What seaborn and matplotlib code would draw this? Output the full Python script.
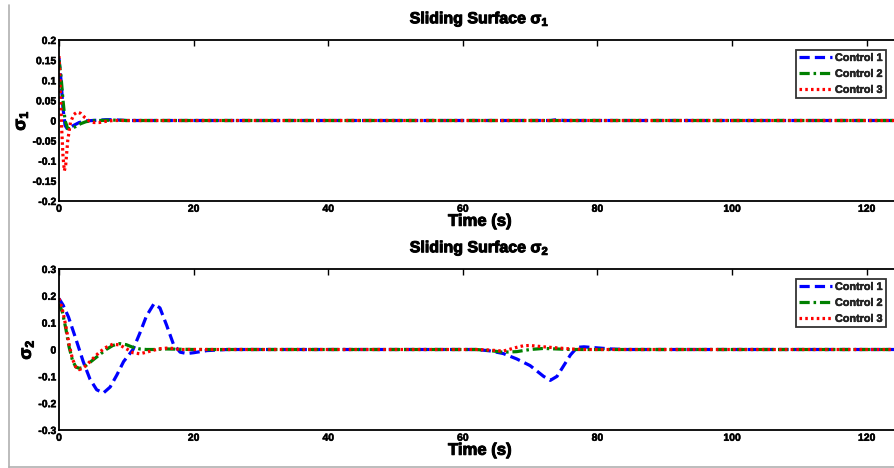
import matplotlib
matplotlib.use("Agg")
import matplotlib.pyplot as plt
import matplotlib.patheffects as pe
import seaborn as sns
from matplotlib.lines import Line2D

sns.set_theme(style="white")
plt.rcParams['font.family'] = ['Liberation Sans', 'DejaVu Sans']
plt.rcParams['font.weight'] = 'bold'
plt.rcParams['mathtext.default'] = 'regular'

# ---------------- data: sigma_1 ----------------
s1_c1_t = [0, 0.3, 0.6, 0.9, 1.2, 1.6, 2.2, 3, 4, 5, 6, 7, 8, 9, 10, 73, 74, 75, 125]
s1_c1_v = [0.155, 0.10, 0.03, -0.012, -0.02, -0.018, -0.012, -0.005, -0.001, 0.0,
           0.001, 0.002, 0.002, 0.001, 0.0, 0.0, 0.002, 0.0, 0.0]
s1_c2_t = [0, 0.3, 0.6, 0.9, 1.3, 1.8, 2.5, 3.2, 4, 5, 6, 8, 10, 125]
s1_c2_v = [0.15, 0.11, 0.05, 0.0, -0.02, -0.02, -0.015, -0.008, -0.003, 0.0, 0.0, 0.001, 0.0, 0.0]
s1_c3_t = [0, 0.2, 0.4, 0.6, 0.8, 1.0, 1.3, 1.7, 2.2, 2.7, 3.2, 3.8, 4.5, 5.2, 6, 7, 8, 125]
s1_c3_v = [0.16, 0.08, -0.02, -0.09, -0.125, -0.11, -0.05, -0.005, 0.015, 0.021, 0.018,
           0.008, -0.001, -0.005, -0.005, -0.002, 0.0, 0.0]

# ---------------- data: sigma_2 ----------------
s2_c1_t = [0, 0.6, 1.4, 2.5, 3.6, 4.6, 5.6, 6.6, 7.6, 8.6, 9.6, 11, 12, 13, 14.1, 15, 16, 17,
           18, 19, 20, 22, 25, 62, 64, 66, 68, 70, 72, 73, 74, 75, 76, 77, 78, 80, 82, 84, 125]
s2_c1_v = [0.19, 0.166, 0.122, 0.04, -0.045, -0.11, -0.15, -0.162, -0.14, -0.095, -0.045,
           0.0, 0.06, 0.125, 0.17, 0.155, 0.09, 0.02, -0.01, -0.015, -0.012, -0.004, 0.0,
           0.0, -0.005, -0.015, -0.035, -0.06, -0.1, -0.115, -0.1, -0.06, -0.02, 0.008,
           0.01, 0.006, 0.002, 0.0, 0.0]
s2_c2_t = [0, 0.5, 1, 1.5, 2, 2.5, 3, 3.5, 4, 5, 6, 7, 8, 9, 10, 11, 12, 13, 14, 16, 20,
           62, 64, 66, 68, 70, 72, 74, 76, 78, 125]
s2_c2_v = [0.17, 0.14, 0.08, 0.01, -0.04, -0.065, -0.07, -0.068, -0.06, -0.04, -0.02, 0.0,
           0.015, 0.022, 0.018, 0.008, 0.002, 0.0, 0.0, 0.002, 0.0,
           0.0, -0.004, -0.01, -0.008, 0.0, 0.004, 0.002, 0.0, 0.0, 0.0]
s2_c3_t = [0, 0.5, 1, 1.5, 2, 2.5, 3, 3.5, 4, 5, 6, 7, 8, 9, 10, 11, 12, 13, 14, 15, 16,
           17, 18, 20, 62, 64, 66, 68, 69, 70, 72, 74, 76, 78, 125]
s2_c3_v = [0.19, 0.15, 0.09, 0.02, -0.035, -0.065, -0.075, -0.07, -0.06, -0.035, -0.01,
           0.008, 0.02, 0.017, 0.003, -0.012, -0.016, -0.01, -0.003, 0.003, 0.005, 0.004,
           0.0, 0.0, 0.0, -0.002, -0.006, 0.008, 0.014, 0.015, 0.01, 0.006, 0.002, 0.0, 0.0]

labels = ["Control 1", "Control 2", "Control 3"]
x_ticks = [0, 20, 40, 60, 80, 100, 120]
y1_ticks = [-0.2, -0.15, -0.1, -0.05, 0, 0.05, 0.1, 0.15, 0.2]
y1_ticklabels = ["-0.2", "-0.15", "-0.1", "-0.05", "0", "0.05", "0.1", "0.15", "0.2"]
y2_ticks = [-0.3, -0.2, -0.1, 0, 0.1, 0.2, 0.3]
y2_ticklabels = ["-0.3", "-0.2", "-0.1", "0", "0.1", "0.2", "0.3"]

colors = ["#0000ff", "#008000", "#ff0000"]
styles = [(0, (3.2, 1.6)), (0, (3.2, 1.2, 0.8, 1.2)), (0, (0.8, 1.0))]

heavy = [pe.withStroke(linewidth=0.7, foreground="black")]
light = [pe.withStroke(linewidth=0.35, foreground="black")]

fig = plt.figure(figsize=(8.95, 4.68), dpi=100)
ax1 = fig.add_axes([0.0659, 0.5705, 0.94, 0.344])
ax2 = fig.add_axes([0.0659, 0.0812, 0.94, 0.344])

panels = [
    (ax1, [(s1_c1_t, s1_c1_v), (s1_c2_t, s1_c2_v), (s1_c3_t, s1_c3_v)],
     (-0.2, 0.2), y1_ticks, y1_ticklabels, "1"),
    (ax2, [(s2_c1_t, s2_c1_v), (s2_c2_t, s2_c2_v), (s2_c3_t, s2_c3_v)],
     (-0.3, 0.3), y2_ticks, y2_ticklabels, "2"),
]

for ax, series, ylim, yt, ytl, idx in panels:
    for (t, v), c, ls, lab in zip(series, colors, styles, labels):
        sns.lineplot(x=t, y=v, ax=ax, color=c, linestyle=ls, linewidth=2.3,
                     label=lab, sort=False, estimator=None)
    ax.set_xlim(0, 125)
    ax.set_ylim(*ylim)
    ax.set_xticks(x_ticks)
    ax.set_xticklabels([str(x) for x in x_ticks])
    ax.set_yticks(yt)
    ax.set_yticklabels(ytl)
    ax.tick_params(direction="in", length=4, width=1, top=True, right=True,
                   labelsize=7.5, pad=2, color="black", labelcolor="black")
    for lab in ax.get_xticklabels() + ax.get_yticklabels():
        lab.set_fontweight("bold")
        lab.set_path_effects(light)
    for sp in ax.spines.values():
        sp.set_visible(True)
        sp.set_color("black")
        sp.set_linewidth(1.3)
    ax.set_xlabel("Time (s)", fontsize=12, fontweight="bold", labelpad=0,
                  color="black", path_effects=heavy)
    ax.set_ylabel("σ$_{" + idx + "}$", fontsize=12.5, fontweight="bold", labelpad=2,
                  color="black", path_effects=heavy)
    ax.set_title("Sliding Surface σ$_{" + idx + "}$", fontsize=11.5, fontweight="bold",
                 pad=12, color="black", path_effects=heavy)
    leg = ax.legend(loc="upper right", bbox_to_anchor=(0.983, 0.94), fontsize=7.8,
                    frameon=True, fancybox=False, handlelength=3.0, handletextpad=0.3,
                    borderpad=0.3, labelspacing=0.55, borderaxespad=0)
    leg.get_frame().set_edgecolor("black")
    leg.get_frame().set_linewidth(1.3)
    for txt in leg.get_texts():
        txt.set_fontweight("bold")
        txt.set_path_effects(light)

# grey frame edges
fig.add_artist(Line2D([9.5 / 895, 9.5 / 895], [0.0, 0.99], transform=fig.transFigure,
                      color="#b0b0b0", linewidth=1.2))
fig.add_artist(Line2D([9.5 / 895, 1.0], [1.5 / 468, 1.5 / 468], transform=fig.transFigure,
                      color="#b0b0b0", linewidth=1.2))

fig.savefig("out.png", dpi=100)
